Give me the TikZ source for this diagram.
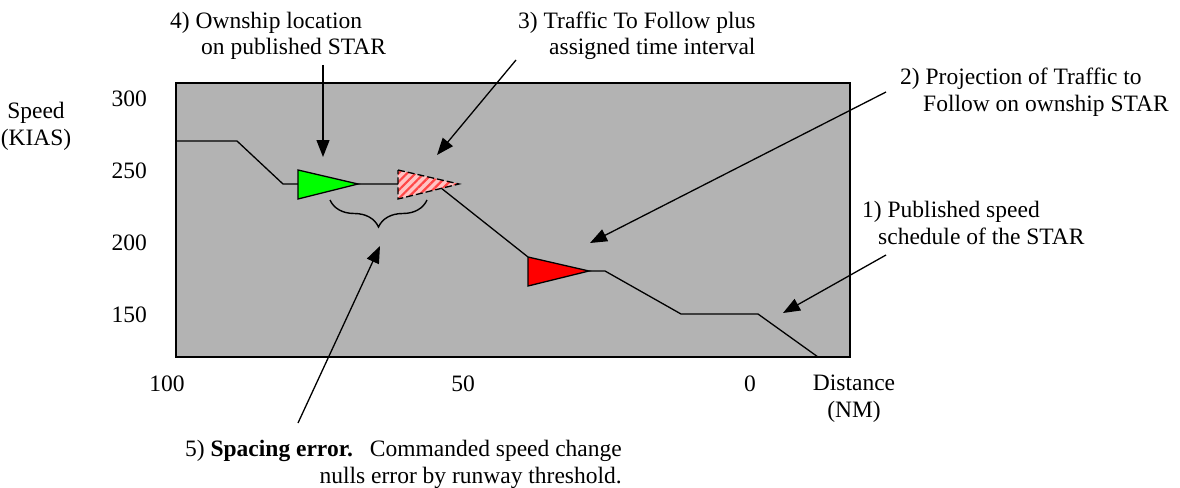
\documentclass[tikz,border=0pt]{standalone}
\usepackage{fontspec}
\setmainfont{Liberation Serif}
\usetikzlibrary{arrows.meta,patterns.meta,decorations.pathreplacing}
\definecolor{boxgray}{RGB}{179,179,179}
\definecolor{pinkfill}{RGB}{255,196,196}
\definecolor{stripe}{RGB}{255,70,70}
\begin{document}
\begin{tikzpicture}[x=1pt,y=-1pt,
  lbl/.style={inner sep=0pt,font=\fontsize{23.5}{26.5}\selectfont},
  callout/.style={line width=1.3pt,-{Triangle[length=17pt,width=13pt]}},
  schedule/.style={line width=1.3pt},
  plane/.style={line width=1.3pt,draw=black}]
\useasboundingbox (0,0) rectangle (1180,487);
% chart background
\draw[line width=1.5pt,fill=boxgray] (176,83) rectangle (850,357);
% published speed schedule
\draw[schedule] (176,141) -- (237,141) -- (283,184) -- (398,184);
\draw[schedule] (436,184) -- (528,257);
\draw[schedule] (589,271) -- (605,271) -- (681,314) -- (758,314) -- (818,357);
% ownship
\draw[plane,fill=green] (298,170) -- (358,184) -- (298,199) -- cycle;
% traffic to follow (assigned interval)
\fill[pinkfill] (398,170) -- (459,184) -- (398,199) -- cycle;
\fill[pattern={Lines[angle=45,distance=6pt,line width=2.2pt]},pattern color=stripe] (398,170) -- (459,184) -- (398,199) -- cycle;
\draw[line width=1.3pt,dash pattern=on 7pt off 3pt] (398,170) -- (459,184) -- (398,199) -- cycle;
% projection of traffic
\draw[plane,fill=red] (528,257) -- (589,271) -- (528,286) -- cycle;
% brace
\draw[line width=1.4pt,decorate,decoration={brace,amplitude=27pt}] (427,200) -- (330,200);
% axis labels
\node[lbl,align=center,anchor=base] (speed) at (36,145) {Speed\\(KIAS)};
\node[lbl,anchor=base east] (y300) at (147,106) {300};
\node[lbl,anchor=base east] (y250) at (147,178) {250};
\node[lbl,anchor=base east] (y200) at (147,250) {200};
\node[lbl,anchor=base east] (y150) at (147,322) {150};
\node[lbl,anchor=base] (x100) at (167,391) {100};
\node[lbl,anchor=base] (x50) at (463,391) {50};
\node[lbl,anchor=base] (x0) at (750,391) {0};
\node[lbl,align=center,anchor=base] (dist) at (854,417) {Distance\\(NM)};
% callout labels (anchor = baseline of last line)
\node[lbl,align=left,anchor=base west] (l4) at (170,55) {4) Ownship location\\\hspace*{31pt}on published STAR};
\node[lbl,align=left,anchor=base west] (l3) at (518,55) {3) Traffic To Follow plus\\\hspace*{31pt}assigned time interval};
\node[lbl,align=left,anchor=base west] (l2) at (900,111) {2) Projection of Traffic to\\\hspace*{23pt}Follow on ownship STAR};
\node[lbl,align=left,anchor=base west] (l1) at (862,244) {1) Published speed\\\hspace*{16pt}schedule of the STAR};
\node[lbl,align=right,anchor=base east] (l5) at (622,483) {5) \textbf{Spacing error.}\hspace{17pt}Commanded speed change\\nulls error by runway threshold.};
% callout arrows
\coordinate (t4a) at (323,65); \coordinate (t4b) at (323,157);
\coordinate (t3a) at (516,60); \coordinate (t3b) at (437,155);
\coordinate (t2a) at (886,92); \coordinate (t2b) at (590,243);
\coordinate (t1a) at (886,255); \coordinate (t1b) at (783,313);
\coordinate (t5a) at (298,423); \coordinate (t5b) at (380,246);
\draw[callout] (t4a) -- (t4b);
\draw[callout] (t3a) -- (t3b);
\draw[callout] (t2a) -- (t2b);
\draw[callout] (t1a) -- (t1b);
\draw[callout] (t5a) -- (t5b);
\end{tikzpicture}
\end{document}
